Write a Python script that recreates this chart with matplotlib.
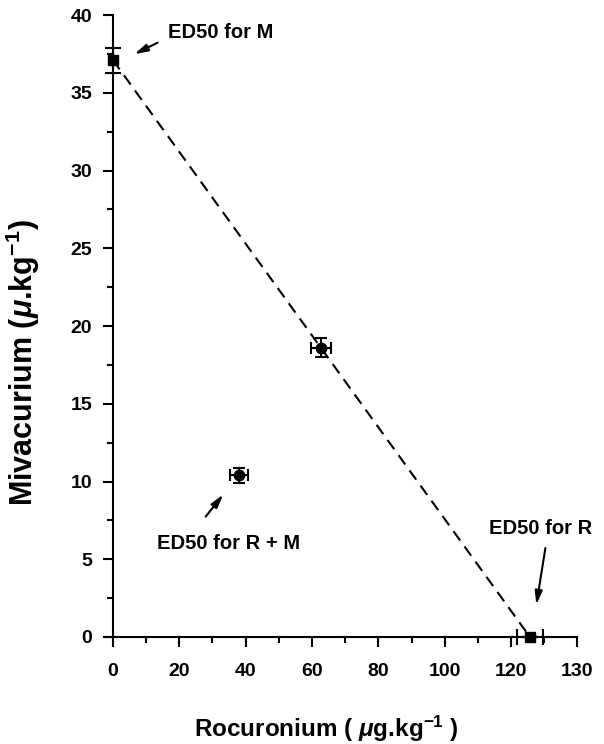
import matplotlib.pyplot as plt
from matplotlib.ticker import MultipleLocator

plt.rcParams['font.family'] = ['Liberation Sans', 'DejaVu Sans']
plt.rcParams['font.weight'] = 'bold'
plt.rcParams['mathtext.fontset'] = 'custom'
plt.rcParams['mathtext.rm'] = 'Liberation Sans:bold'
plt.rcParams['mathtext.it'] = 'Liberation Sans:italic:bold'

# ED50 values (rocuronium ug/kg, mivacurium ug/kg) with SE
# single drugs (squares)
single_roc = [0, 125.7]
single_roc_err = [0, 3.9]
single_miv = [37.1, 0]
single_miv_err = [0.8, 0]
# combinations (circles)
combo_roc = [62.7, 38.0]
combo_roc_err = [3.0, 2.7]
combo_miv = [18.6, 10.4]
combo_miv_err = [0.6, 0.5]

xtick_pos = [0, 20, 40, 60, 80, 100, 120, 140]
xtick_labels = ["0", "20", "40", "60", "80", "100", "120", "130"]

fig = plt.figure(figsize=(6.04, 7.44), dpi=100)
ax = fig.add_axes([0.1733, 0.1292, 0.7826, 0.8506])

# line of additivity between the two single-drug ED50s
ax.plot(single_roc, single_miv, color="black", lw=1.5, ls=(0, (5.5, 3.5)), zorder=2)

ax.errorbar(single_roc, single_miv, xerr=single_roc_err, yerr=single_miv_err,
            fmt="s", color="black", ms=7.5, capsize=6, elinewidth=1.5,
            capthick=1.5, zorder=3, clip_on=False)
ax.errorbar(combo_roc, combo_miv, xerr=combo_roc_err, yerr=combo_miv_err,
            fmt="o", color="black", ms=7.5, capsize=4, elinewidth=1.5,
            capthick=1.5, zorder=3)

ax.set_xlim(-2.5, 140)
ax.set_ylim(-0.7, 40)
for side in ["top", "right"]:
    ax.spines[side].set_visible(False)
ax.spines["left"].set_position(("data", 0))
ax.spines["bottom"].set_position(("data", 0))
ax.spines["left"].set_bounds(0, 40)
ax.spines["bottom"].set_bounds(-2.5, 140)
ax.spines["left"].set_linewidth(1.5)
ax.spines["bottom"].set_linewidth(1.5)

ax.set_xticks(xtick_pos)
ax.set_xticklabels(xtick_labels)
ax.xaxis.set_minor_locator(MultipleLocator(10))
ax.yaxis.set_major_locator(MultipleLocator(5))
ax.yaxis.set_minor_locator(MultipleLocator(2.5))
ax.tick_params(which="major", direction="out", length=7, width=1.5,
               labelsize=14, pad=12)
ax.tick_params(which="minor", direction="out", length=4, width=1.5)
ax.tick_params(axis="y", pad=8)

ax.set_xlabel(r"Rocuronium ( $\mu$g.kg$^{\mathregular{-1}}$ )", fontsize=17.5, fontweight="bold")
ax.set_ylabel(r"Mivacurium ($\mu$.kg$^{\mathregular{-1}}$)", fontsize=22, fontweight="bold")
ax.xaxis.set_label_coords(0.468, -0.104)
ax.yaxis.set_label_coords(-0.133, 0.45)

arrow = dict(arrowstyle="-|>,head_length=0.8,head_width=0.22", color="black", lw=1.5)
ax.annotate("", xy=(5.7, 37.4), xytext=(14.2, 38.3), arrowprops=arrow)
ax.text(16.6, 38.9, "ED50 for M", fontsize=14.5, va="center", ha="left")
ax.annotate("", xy=(33.8, 9.3), xytext=(27.4, 7.6), arrowprops=arrow)
ax.text(13.3, 6.0, "ED50 for R + M", fontsize=14.5, va="center", ha="left")
ax.annotate("", xy=(127.5, 1.9), xytext=(130.5, 5.9), arrowprops=arrow)
ax.text(113.4, 7.0, "ED50 for R", fontsize=14.5, va="center", ha="left")

fig.savefig("out.png", dpi=100)
